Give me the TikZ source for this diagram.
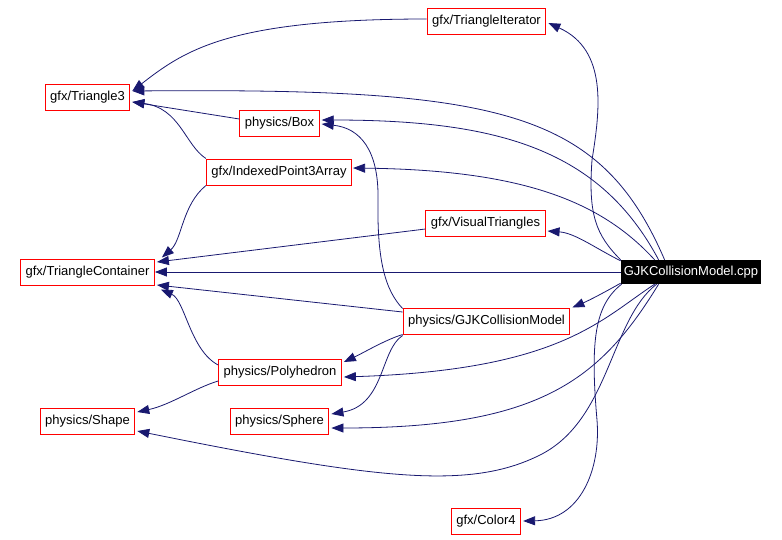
\documentclass[tikz,border=0pt]{standalone}
\usepackage{fontspec}
\setmainfont{Liberation Sans}
\usepackage{xcolor}
\usepackage{tikz}
\definecolor{navyline}{HTML}{191970}
\definecolor{boxred}{HTML}{FF0000}
\usetikzlibrary{arrows.meta,calc}

\begin{document}
\begin{tikzpicture}[x=1pt,y=-1pt,
  file/.style={rectangle,draw=boxred,line width=1pt,minimum height=26pt,
               inner xsep=5pt,font=\fontsize{13}{15}\selectfont},
  cur/.style={rectangle,fill=black,text=white,minimum height=24pt,
              inner xsep=3pt,font=\fontsize{13}{15}\selectfont},
  arr/.style={-{Triangle[length=12pt,width=9pt]},color=navyline,line width=0.8pt}]
  \useasboundingbox (0,0) rectangle (782,539);
  % files
  \node[file] (ti)    at (486.5,21)  {gfx/TriangleIterator};
  \node[file] (tri3)  at (87.5,97)   {gfx/Triangle3};
  \node[file] (box)   at (279.5,123) {physics/Box};
  \node[file] (ip3a)  at (279,172)   {gfx/IndexedPoint3Array};
  \node[file] (vt)    at (485.5,223) {gfx/VisualTriangles};
  \node[file] (tc)    at (87.5,272)  {gfx/TriangleContainer};
  \node[cur]  (cpp)   at (691,272)   {GJKCollisionModel.cpp};
  \node[file] (gjk)   at (486.5,321) {physics/GJKCollisionModel};
  \node[file] (poly)  at (280,372)   {physics/Polyhedron};
  \node[file] (shape) at (87.5,421)  {physics/Shape};
  \node[file] (sphere)at (279.5,421) {physics/Sphere};
  \node[file] (color4)at (486,521)   {gfx/Color4};
  % includes of the cpp file
  \draw[arr] (cpp.north west) .. controls (596,235) and (588,215) .. (592,160)
    .. controls (600,110) and (608,50) .. ($(ti.east)+(2,2)$);
  \draw[arr] ($(cpp.north west)+(44,0)$) .. controls (600,110) and (500,88) .. ($(tri3.east)+(2,-6)$);
  \draw[arr] ($(cpp.north west)+(38,0)$) .. controls (600,150) and (500,120) .. ($(box.east)+(2,-3)$);
  \draw[arr] ($(cpp.north west)+(34,0)$) .. controls (600,200) and (520,170) .. ($(ip3a.east)+(1,-4)$);
  \draw[arr] ($(cpp.north west)+(0,1)$) .. controls (595,248) and (575,233) .. ($(vt.east)+(2,8)$);
  \draw[arr] (cpp.west) -- (tc.east);
  \draw[arr] ($(cpp.south west)+(0,-1)$) .. controls (605,292) and (590,300) .. ($(gjk.north east)+(2,0)$);
  \draw[arr] ($(cpp.south west)+(34,0)$) .. controls (600,320) and (560,370) .. ($(poly.east)+(2,5)$);
  \draw[arr] ($(cpp.south west)+(38,0)$) .. controls (600,380) and (540,428) .. ($(sphere.east)+(2,7)$);
  \draw[arr] ($(cpp.south west)+(36,0)$) .. controls (610,320) and (610,420) .. (540,455)
    .. controls (470,490) and (380,480) .. ($(shape.east)+(2,10)$);
  \draw[arr] ($(cpp.south west)+(1,0)$) .. controls (595,305) and (590,340) .. (597,420)
    .. controls (601,470) and (580,520) .. ($(color4.east)+(2,0)$);
  % includes between headers
  \draw[arr] ($(ti.west)+(0,-2)$) .. controls (230,19) and (185,50) .. ($(tri3.east)+(2,-6)$);
  \draw[arr] ($(box.west)+(0,-4)$) -- ($(tri3.east)+(2,5)$);
  \draw[arr] (ip3a.north west) .. controls (185,145) and (180,108) .. ($(tri3.east)+(2,5)$);
  \draw[arr] (ip3a.south west) .. controls (182,205) and (182,240) .. ($(tc.north east)+(7,-1)$);
  \draw[arr] ($(vt.west)+(0,6)$) -- ($(tc.east)+(2,-10)$);
  \draw[arr] ($(gjk.west)+(0,-9)$) -- ($(tc.east)+(2,13)$);
  \draw[arr] ($(poly.west)+(0,-7)$) .. controls (190,350) and (185,300) .. ($(tc.south east)+(6,4)$);
  \draw[arr] ($(poly.west)+(0,9)$) .. controls (195,388) and (170,405) .. ($(shape.east)+(2,-9)$);
  \draw[arr] (gjk.south west) .. controls (385,340) and (365,352) .. ($(poly.east)+(2,-10)$);
  \draw[arr] ($(gjk.south west)+(0,1)$) .. controls (380,350) and (385,405) .. ($(sphere.east)+(2,-7)$);
  \draw[arr] ($(gjk.north west)+(0,1)$) .. controls (385,290) and (377,260) .. (378,200)
    .. controls (379,150) and (360,128) .. ($(box.east)+(2,1)$);
\end{tikzpicture}
\end{document}
